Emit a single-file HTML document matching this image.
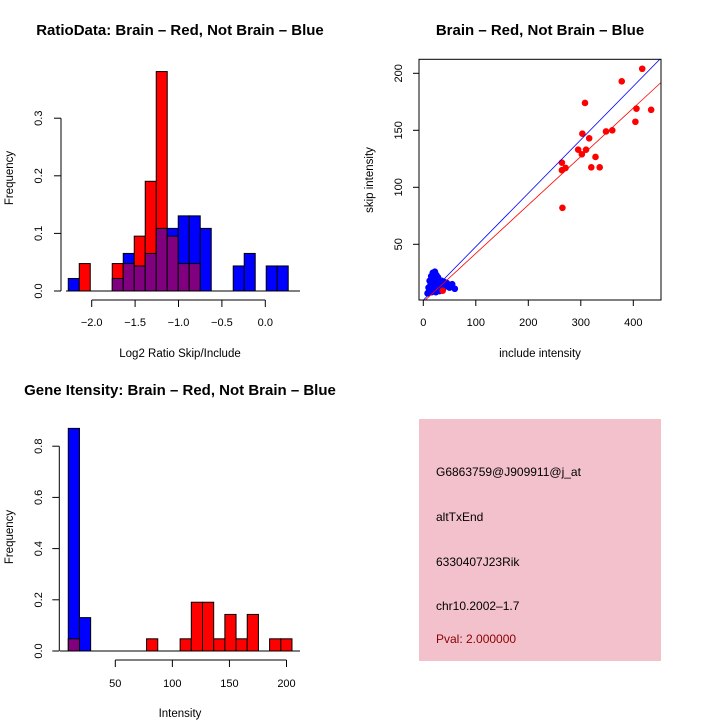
<!DOCTYPE html>
<html><head><meta charset="utf-8"><style>
html,body{margin:0;padding:0;background:#fff;}
svg{display:block;font-family:"Liberation Sans",sans-serif;}
</style></head><body>
<svg id="s" width="720" height="720" viewBox="0 0 720 720"></svg>
<script>
// ---- Panel 1: ratio histogram data ----
const ratioBinStart = -2.27;
const ratioBinWidth = 0.1267;
const ratioRedFreq = [0,1/21,0,0,1/21,1/21,2/21,4/21,8/21,2/21,1/21,1/21,0,0,0,0,0,0,0,0];
const ratioBlueFreq = [1/46,0,0,0,1/46,3/46,2/46,3/46,5/46,5/46,6/46,6/46,5/46,0,0,2/46,3/46,0,2/46,2/46];
const ratioXTicks = [-2.0,-1.5,-1.0,-0.5,0.0];
const ratioXTickLabels = ["\u22122.0","\u22121.5","\u22121.0","\u22120.5","0.0"];
const ratioYTicks = [0,0.1,0.2,0.3];
const ratioYTickLabels = ["0.0","0.1","0.2","0.3"];
// ---- Panel 2: scatter data ----
const redInclude = [417,378,308,406,434,404,303,316,348,360,295,310,302,328,264,271,264,320,336,265,37];
const redSkip = [204,193,174,169,168,157.5,147,143,149,150,133,133,129,126.6,121.6,117,115,117.5,117.5,82,9.3];
const blueInclude = [10,12,14,15,16,18,19,20,21,22,24,25,26,27,28,30,32,34,35,38,40,42,45,50,55,60,
  8,11,13,17,20,23,26,29,31,33,36,15,18,22,25,28,12,16,20,24];
const blueSkip = [12,10,15,18,8,20,22,14,24,11,17,19,9,13,21,16,12,15,18,11,17,14,16,12,15,11,
  7,9,13,16,19,10,12,14,9,13,10,22,25,26,23,20,18,21,17,8];
const blueFit = [1, 0.469];   // intercept, slope
const redFit = [-0.5, 0.425];
const scatXTicks = [0,100,200,300,400];
const scatYTicks = [50,100,150,200];
// ---- Panel 3: intensity histogram ----
const intBinStart = 8.8;
const intBinWidth = 9.8;
const intRedFreq = [1/21,0,0,0,0,0,0,1/21,0,0,1/21,4/21,4/21,1/21,3/21,1/21,3/21,0,1/21,1/21];
const intBlueFreq = [40/46,6/46,0,0,0,0,0,0,0,0,0,0,0,0,0,0,0,0,0,0];
const intXTicks = [50,100,150,200];
const intYTicks = [0,0.2,0.4,0.6,0.8];
const intYTickLabels = ["0.0","0.2","0.4","0.6","0.8"];

const S = document.getElementById('s');
const NS = 'http://www.w3.org/2000/svg';
function mk(tag, attrs, parent){
  const e = document.createElementNS(NS, tag);
  for (const k in attrs) e.setAttribute(k, attrs[k]);
  (parent||S).appendChild(e);
  return e;
}
function txt(x,y,str,size,opts,parent){
  const t = mk('text', Object.assign({x:x,y:y,'font-size':size,'text-anchor':'middle'}, opts||{}), parent);
  t.textContent = str;
  return t;
}

function histogram(name, g, xs, ys, binStart, binW, red, blue){
  for (let i=0;i<red.length;i++){
    const x0 = xs(binStart+i*binW), x1 = xs(binStart+(i+1)*binW);
    const r = red[i], b = blue[i];
    const hi = Math.max(r,b), lo = Math.min(r,b);
    if (hi>0){
      const col = r>=b ? '#ff0000' : '#0000ff';
      const e = mk('rect',{x:x0,y:ys(hi),width:x1-x0,height:ys(0)-ys(hi),fill:col,stroke:'#000','stroke-width':1},g);
      
      
    }
    if (lo>0){
      const e = mk('rect',{x:x0,y:ys(lo),width:x1-x0,height:ys(0)-ys(lo),fill:'#800080',stroke:'#000','stroke-width':1},g);
      
      
    }
  }
}
function xAxis(g, xs, ticks, labels, y, labelY){
  mk('line',{x1:xs(ticks[0]),x2:xs(ticks[ticks.length-1]),y1:y,y2:y,stroke:'#000'},g);
  ticks.forEach((v,i)=>{
    mk('line',{x1:xs(v),x2:xs(v),y1:y,y2:y+7,stroke:'#000'},g);
    const t = txt(xs(v),labelY,labels[i],11,{},g);
    
    
  });
}
function yAxis(g, ys, ticks, labels, x, labelX){
  mk('line',{x1:x,x2:x,y1:ys(ticks[0]),y2:ys(ticks[ticks.length-1]),stroke:'#000'},g);
  ticks.forEach((v,i)=>{
    mk('line',{x1:x-7,x2:x,y1:ys(v),y2:ys(v),stroke:'#000'},g);
    const t = txt(labelX,ys(v),labels[i],11,{transform:'rotate(-90 '+labelX+' '+ys(v)+')'},g);
    
    
  });
}

// Panel 1
(function(){
  const g = mk('g',{});
  
  
  const xs = v => 265.3 + v*86.8;
  const ys = v => 291 - v*576;
  histogram('ratio', g, xs, ys, ratioBinStart, ratioBinWidth, ratioRedFreq, ratioBlueFreq);
  mk('line',{x1:66,x2:300,y1:291,y2:291,stroke:'#000'},g);
  xAxis(g, xs, ratioXTicks, ratioXTickLabels, 300, 326);
  yAxis(g, ys, ratioYTicks, ratioYTickLabels, 61, 42);
  let t = txt(180,35,'RatioData: Brain \u2013 Red, Not Brain \u2013 Blue',15,{'font-weight':'bold'},g);
   
  t = txt(180,357,'Log2 Ratio Skip/Include',11.5,{},g);
   
  t = txt(13,178,'Frequency',11.5,{transform:'rotate(-90 13 178)'},g);
   
})();

// Panel 2
(function(){
  const g = mk('g',{});
  
  
  const xs = v => 423.3 + v*0.525;
  const ys = v => 301.3 - v*1.14;
  const L=419, T=59.3, R=661, B=300;
  const cp = mk('clipPath',{id:'cp'},g);
  mk('rect',{x:L,y:T,width:R-L,height:B-T},cp);
  blueInclude.forEach((v,i)=>{
    const c = mk('circle',{cx:xs(v),cy:ys(blueSkip[i]),r:3.3,fill:'#0000ff'},g);
    
    
  });
  redInclude.forEach((v,i)=>{
    const c = mk('circle',{cx:xs(v),cy:ys(redSkip[i]),r:3.3,fill:'#ff0000'},g);
    
    
  });
  let l = mk('line',{x1:xs(-10),y1:ys(blueFit[0]+blueFit[1]*-10),x2:xs(460),y2:ys(blueFit[0]+blueFit[1]*460),stroke:'#0000ff','stroke-width':0.8,'clip-path':'url(#cp)'},g);
   
  l = mk('line',{x1:xs(-10),y1:ys(redFit[0]+redFit[1]*-10),x2:xs(460),y2:ys(redFit[0]+redFit[1]*460),stroke:'#ff0000','stroke-width':0.8,'clip-path':'url(#cp)'},g);
   
  const box = mk('rect',{x:L,y:T,width:R-L,height:B-T,fill:'none',stroke:'#000'},g);
   
  scatXTicks.forEach(v=>{
    mk('line',{x1:xs(v),x2:xs(v),y1:B,y2:B+6,stroke:'#000'},g);
    const t = txt(xs(v),326,String(v),11,{},g);
     
  });
  scatYTicks.forEach(v=>{
    mk('line',{x1:L-6,x2:L,y1:ys(v),y2:ys(v),stroke:'#000'},g);
    const t = txt(402,ys(v),String(v),11,{transform:'rotate(-90 402 '+ys(v)+')'},g);
     
  });
  let t = txt(540,35,'Brain \u2013 Red, Not Brain \u2013 Blue',15,{'font-weight':'bold'},g);
   
  t = txt(540,357,'include intensity',11.5,{},g);
   
  t = txt(373,180,'skip intensity',11.5,{transform:'rotate(-90 373 180)'},g);
   
})();

// Panel 3
(function(){
  const g = mk('g',{});
  
  
  const xs = v => 115.3 + (v-50)*1.1413;
  const ys = v => 651 - v*256;
  histogram('intensity', g, xs, ys, intBinStart, intBinWidth, intRedFreq, intBlueFreq);
  mk('line',{x1:60,x2:300,y1:651,y2:651,stroke:'#000'},g);
  xAxis(g, xs, intXTicks, intXTicks.map(String), 660, 687);
  yAxis(g, ys, intYTicks, intYTickLabels, 59.3, 42);
  let t = txt(180,395,'Gene Itensity: Brain \u2013 Red, Not Brain \u2013 Blue',15,{'font-weight':'bold'},g);
   
  t = txt(180,717,'Intensity',11.5,{},g);
   
  t = txt(13,537,'Frequency',11.5,{transform:'rotate(-90 13 537)'},g);
   
})();
</script>
<div style="position:absolute;left:419px;top:419px;width:242px;height:242px;background:#f3c1cc;font-family:'Liberation Sans',sans-serif;font-size:12px;color:#000;">
  <div style="position:absolute;left:17px;top:46px;">G6863759@J909911@j_at</div>
  <div style="position:absolute;left:17px;top:91px;">altTxEnd</div>
  <div style="position:absolute;left:17px;top:136px;">6330407J23Rik</div>
  <div style="position:absolute;left:17px;top:180px;">chr10.2002&#8211;1.7</div>
  <div style="position:absolute;left:17px;top:213px;color:#8b0000;">Pval: 2.000000</div>
</div>
</body></html>
